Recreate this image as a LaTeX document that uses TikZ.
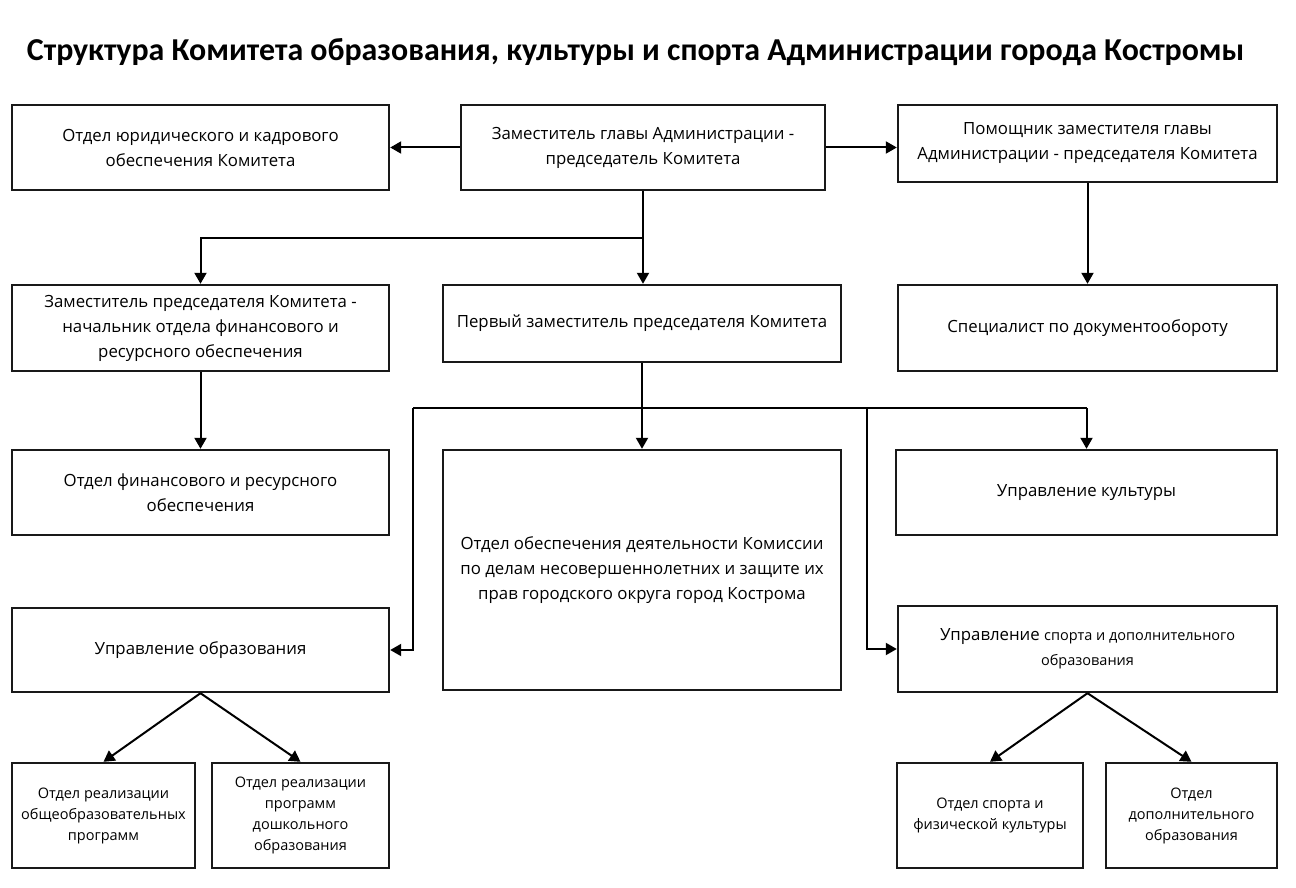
\documentclass[tikz,border=0pt]{standalone}
\usepackage{fontspec}
\setmainfont{Open Sans}
\newfontfamily\titlefont{Carlito}
\usetikzlibrary{arrows.meta}
\tikzset{
  box/.style={draw=black!90, line width=2.4pt, fill=white, align=center, inner sep=2pt,
    font=\fontsize{16.8}{25}\selectfont},
  small/.style={font=\fontsize{14.5}{21}\selectfont},
  conn/.style={line width=2pt, black},
  arr/.style={conn, -{Triangle[width=12pt,length=11pt]}},
}
\begin{document}
\begin{tikzpicture}[x=1pt,y=-1pt]
\useasboundingbox[fill=white] (0,0) rectangle (1296,888);
\node[font=\titlefont\bfseries\fontsize{31.9}{36}\selectfont] (title) at (635.5,52) {Структура Комитета образования, культуры и спорта Администрации города Костромы};

\node[box, minimum width=377pt, minimum height=85pt] (jur) at (200.5,147.5) {Отдел юридического и кадрового\\обеспечения Комитета};
\node[box, minimum width=364pt, minimum height=85pt] (zg) at (643,147.5) {Заместитель главы Администрации -\\председатель Комитета};
\node[box, minimum width=379pt, minimum height=77pt] (pom) at (1087.5,143.5) {Помощник заместителя главы\\Администрации - председателя Комитета};

\node[box, minimum width=377pt, minimum height=86pt] (zp) at (200.5,328) {Заместитель председателя Комитета -\\начальник отдела финансового и\\ресурсного обеспечения};
\node[box, minimum width=398pt, minimum height=77pt] (pz) at (642,323.5) {Первый заместитель председателя Комитета};
\node[box, minimum width=379pt, minimum height=86pt] (spec) at (1087.5,328) {Специалист по документообороту};

\node[box, minimum width=377pt, minimum height=85pt] (fin) at (200.5,492.5) {Отдел финансового и ресурсного\\обеспечения};
\node[box, minimum width=398pt, minimum height=240pt] (kom) at (642,570) {Отдел обеспечения деятельности Комиссии\\по делам несовершеннолетних и защите их\\прав городского округа город Кострома};
\node[box, minimum width=381pt, minimum height=85pt] (kult) at (1086.5,492.5) {Управление культуры};

\node[box, minimum width=377pt, minimum height=84pt] (uobr) at (200.5,650) {Управление образования};
\node[box, minimum width=379pt, minimum height=86pt] (uspo) at (1087.5,649) {Управление {\fontsize{14.5}{25}\selectfont спорта и дополнительного}\\{\fontsize{14.5}{25}\selectfont образования}};

\node[box, small, minimum width=183pt, minimum height=105pt] (o1) at (103.5,815.5) {Отдел реализации\\общеобразовательных\\программ};
\node[box, small, minimum width=177pt, minimum height=105pt] (o2) at (300.5,815.5) {Отдел реализации\\программ\\дошкольного\\образования};
\node[box, small, minimum width=186pt, minimum height=105pt] (o3) at (990,815.5) {Отдел спорта и\\физической культуры};
\node[box, small, minimum width=171pt, minimum height=105pt] (o4) at (1191.5,815.5) {Отдел\\дополнительного\\образования};

% connectors
\draw[arr] (zg) -- (jur);
\draw[arr] (zg.east) -- (zg.east -| pom.west);
\draw[arr] (zg.south) -- (zg.south |- pz.north);
\coordinate (b1) at (643,238);
\draw[arr] (b1) -| (zp.north);
\draw[arr] (pom) -- (spec);
\draw[arr] (zp) -- (fin);
\draw[arr] (pz) -- (kom);
\coordinate (busL) at (413,408);
\coordinate (busM) at (867,408);
\coordinate (busR) at (kult.north |- busL);
\draw[conn] (busL) -- (busR);
\draw[arr] (busL) |- (uobr.east);
\draw[arr] (busM) |- (uspo.west);
\draw[arr] (busR) -- (kult.north);
\draw[arr] (uobr.south) -- (o1.north);
\draw[arr] (uobr.south) -- (o2.north);
\draw[arr] (uspo.south) -- (o3.north);
\draw[arr] (uspo.south) -- (o4.north);
\end{tikzpicture}
\end{document}
